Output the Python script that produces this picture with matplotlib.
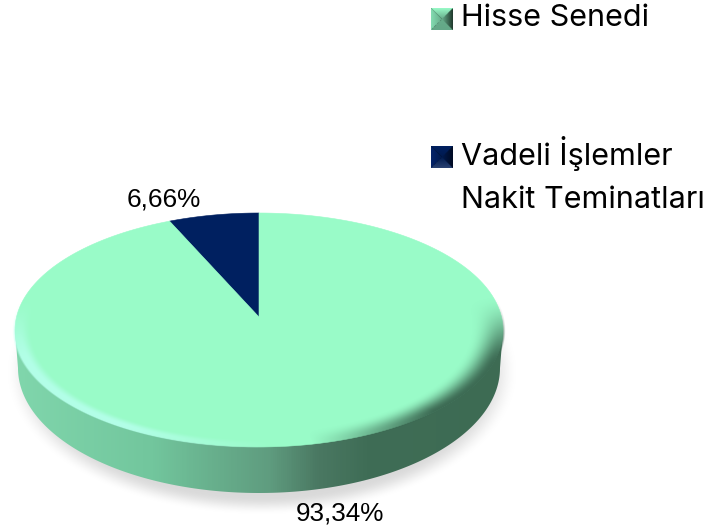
import numpy as np
import matplotlib
matplotlib.use('Agg')
import matplotlib.pyplot as plt
from matplotlib.colors import LinearSegmentedColormap, to_rgb
from matplotlib.patches import Polygon

W, H = 721, 532

# data
categories = ['Vadeli İşlemler\nNakit Teminatları', 'Hisse Senedi']
shares = [6.66, 93.34]
share_labels = ['6,66%', '93,34%']
slice_colors = ['#002060', '#99FBC8']

# geometry of the tilted disc, in pixels
CX, CY, RX, RY = 259, 330, 244, 117
TIP_Y = 317
TOP_Y = 213
PERSP = 0.111
BOTTOM = (259, 368, 241, 125)


def project(u, v):
    # unit circle point -> screen, far side is squeezed so the tip sits above the ellipse centre
    den = 1 + PERSP * v
    x = CX + RX * np.sqrt(1 - PERSP ** 2) * u / den
    y = (TIP_Y + (TOP_Y * (1 + PERSP) - TIP_Y) * v) / den
    return x, y


def slice_poly(start, end):
    a = np.radians(np.linspace(start, end, 200))
    x, y = project(-np.sin(a), np.cos(a))
    tx, ty = project(0.0, 0.0)
    return np.r_[tx, x], np.r_[ty, y]


def smooth(t):
    t = np.clip(t, 0, 1)
    return t * t * (3 - 2 * t)


fig = plt.figure(figsize=(W / 100, H / 100), dpi=100)
ax = fig.add_axes([0, 0, 1, 1])
ax.axis('off')

xx, yy = np.meshgrid(np.arange(W) + 0.5, np.arange(H) + 0.5)
extent = (0, W, H, 0)

# soft shadow under the disc
rs = np.hypot((xx - 262) / 256, (yy - 372) / 143)
shadow = np.zeros((H, W, 4))
shadow[..., :3] = 0.76
shadow[..., 3] = 0.6 * (1 - smooth((rs - 0.87) / 0.13))
ax.imshow(shadow, extent=extent, zorder=1, interpolation='bilinear', aspect='auto')

# side band, left to right gradient
band_cmap = LinearSegmentedColormap.from_list('band', [
    (0.00, '#80D6AC'), (0.28, '#72C69D'), (0.40, '#68B08D'),
    (0.52, '#5F9C7F'), (0.62, '#4A7862'), (0.72, '#3F6D56'), (1.00, '#3D6B53')])
band = ax.imshow(np.linspace(0, 1, 490)[None, :], cmap=band_cmap, vmin=0, vmax=1,
                 extent=(15, 505, 500, 320), zorder=2, aspect='auto')
phi = np.radians(np.linspace(180, 360, 200))
bx = BOTTOM[0] + BOTTOM[2] * np.cos(phi)
by = BOTTOM[1] - BOTTOM[3] * np.sin(phi)
band_path = Polygon(np.c_[np.r_[CX - RX, bx, CX + RX], np.r_[CY, by, CY]],
                    closed=True, transform=ax.transData, fc='none', ec='none')
ax.add_patch(band_path)
band.set_clip_path(band_path)

# top face, one polygon per share
start = 0.0
for share, color in zip(shares, slice_colors):
    end = start + 360 * share / sum(shares)
    px, py = slice_poly(start, end)
    ax.fill(px, py, color=color, lw=0.4, zorder=3)
    start = end

# bevel along the near rim of the top face
nx = (xx - CX) / RX
ny = (yy - CY) / RY
r = np.hypot(nx, ny)
inside = 1 - smooth((r - 1.0) / 0.012)
ang_x = nx / np.maximum(r, 1e-6)
ang_y = ny / np.maximum(r, 1e-6)
lower = smooth((ang_y + 0.3) / 0.6)
t_light = smooth((r - 0.93) / 0.05)
t_dark = smooth((r - 0.86) / 0.14) ** 1.3
light = np.clip((0.05 - ang_x) / 0.6, 0, 1) * lower * t_light * inside
dark = np.clip((ang_x - 0.22) / 0.5, 0, 1) * lower * t_dark * inside
bevel = np.zeros((H, W, 4))
bevel[..., :3] = np.where(light[..., None] > dark[..., None],
                          np.array([0.72, 1.0, 0.93]), np.array([0.24, 0.42, 0.33]))
bevel[..., 3] = np.clip(np.maximum(light * 0.85, dark), 0, 1)
ax.imshow(bevel, extent=extent, zorder=4, interpolation='bilinear', aspect='auto')

# data labels
ax.text(164, 200, share_labels[0], fontsize=18.8, family='Liberation Sans',
        ha='center', va='center', color='black', zorder=6)
ax.text(339.5, 513.5, share_labels[1], fontsize=18.8, family='Liberation Sans',
        ha='center', va='center', color='black', zorder=6)


# legend with pyramid style swatches
def swatch(x0, y0, size, top, left, bottom, right, centre):
    n = size * 4
    g = (np.arange(n) + 0.5) / n * 2 - 1
    sx, sy = np.meshgrid(g, g)
    depth = np.maximum(np.abs(sx), np.abs(sy))[..., None]
    img = np.zeros((n, n, 3))
    masks = [(sy < -np.abs(sx), top), (sy > np.abs(sx), bottom),
             (sx < -np.abs(sy), left), (sx >= np.abs(sy), right)]
    for mask, edge in masks:
        mix = depth * np.array(to_rgb(edge)) + (1 - depth) * np.array(to_rgb(centre))
        img[mask] = mix[mask]
    ax.imshow(img, extent=(x0, x0 + size, y0 + size, y0), zorder=5, aspect='auto')


swatch(431, 8, 22, '#99FBC8', '#84DDB2', '#64A888', '#1F382C', '#66AC8A')
swatch(431, 146, 22, '#002060', '#05246A', '#2A4272', '#000A22', '#001A4E')

ax.set_xlim(0, W)
ax.set_ylim(H, 0)

ax.text(461, 26, categories[1], fontsize=22, family='Inter', va='baseline', color='black', zorder=6)
line_one, line_two = categories[0].split('\n')
ax.text(461, 165, line_one, fontsize=22, family='Inter', va='baseline', color='black', zorder=6)
ax.text(461, 208.5, line_two, fontsize=22, family='Inter', va='baseline', color='black', zorder=6)

fig.savefig('out.png', dpi=100)
